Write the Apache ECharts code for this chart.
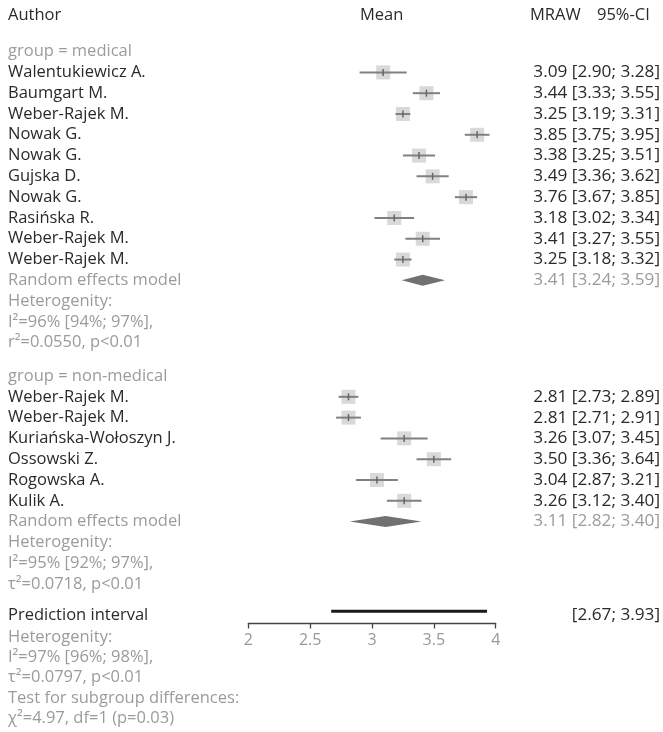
<!DOCTYPE html>
<html>
<head>
<meta charset="utf-8">
<script src="https://cdn.jsdelivr.net/npm/echarts@6/dist/echarts.min.js"></script>
<style>
html, body { margin: 0; padding: 0; background: #fff; }
#main { width: 663px; height: 732px; }
</style>
</head>
<body>
<div id="main"></div>
<script>
// 数据 - medical group
var medAuthors = ['Walentukiewicz A.', 'Baumgart M.', 'Weber-Rajek M.', 'Nowak G.', 'Nowak G.',
    'Gujska D.', 'Nowak G.', 'Rasińska R.', 'Weber-Rajek M.', 'Weber-Rajek M.'];
var medMean = [3.09, 3.44, 3.25, 3.85, 3.38, 3.49, 3.76, 3.18, 3.41, 3.25];
var medLower = [2.90, 3.33, 3.19, 3.75, 3.25, 3.36, 3.67, 3.02, 3.27, 3.18];
var medUpper = [3.28, 3.55, 3.31, 3.95, 3.51, 3.62, 3.85, 3.34, 3.55, 3.32];
var medPooled = [3.41, 3.24, 3.59];
var medHet = ['Heterogenity:', 'I²=96% [94%; 97%],', 'r²=0.0550, p<0.01'];

// non-medical group
var nonAuthors = ['Weber-Rajek M.', 'Weber-Rajek M.', 'Kuriańska-Wołoszyn J.', 'Ossowski Z.',
    'Rogowska A.', 'Kulik A.'];
var nonMean = [2.81, 2.81, 3.26, 3.50, 3.04, 3.26];
var nonLower = [2.73, 2.71, 3.07, 3.36, 2.87, 3.12];
var nonUpper = [2.89, 2.91, 3.45, 3.64, 3.21, 3.40];
var nonPooled = [3.11, 2.82, 3.40];
var nonHet = ['Heterogenity:', 'I²=95% [92%; 97%],', 'τ²=0.0718, p<0.01'];

// overall
var predInterval = [2.67, 3.93];
var overallHet = ['Heterogenity:', 'I²=97% [96%; 98%],', 'τ²=0.0797, p<0.01',
    'Test for subgroup differences:', 'χ²=4.97, df=1 (p=0.03)'];
var xTicks = [2, 2.5, 3, 3.5, 4];

var DARK = '#2a2a2a';
var GREY = '#9b9b9b';
var FONT = 'Open Sans';
var FS = 16.5;
var FS_RIGHT = 17.2; // 右列数字稍宽

function fmt(m, l, u) {
    return m.toFixed(2) + ' [' + l.toFixed(2) + '; ' + u.toFixed(2) + ']';
}

// 构建行
var studyData = [];   // [mean, lower, upper, row]
var diamondData = []; // [mean, lower, upper, row]
var textRows = [];    // {row, left, right, color}
var r = 0;

function addGroup(name, authors, mean, lower, upper, pooled, het) {
    textRows.push({ row: r, left: 'group = ' + name, right: '', color: GREY });
    r++;
    for (var i = 0; i < authors.length; i++) {
        studyData.push([mean[i], lower[i], upper[i], r]);
        textRows.push({ row: r, left: authors[i], right: fmt(mean[i], lower[i], upper[i]), color: DARK });
        r++;
    }
    diamondData.push([pooled[0], pooled[1], pooled[2], r]);
    textRows.push({ row: r, left: 'Random effects model', right: fmt(pooled[0], pooled[1], pooled[2]), color: GREY });
    r++;
    for (var k = 0; k < het.length; k++) {
        textRows.push({ row: r, left: het[k], right: '', color: GREY });
        r++;
    }
}

addGroup('medical', medAuthors, medMean, medLower, medUpper, medPooled, medHet);
r += 0.6;
addGroup('non-medical', nonAuthors, nonMean, nonLower, nonUpper, nonPooled, nonHet);

var predRow = r + 0.5;
textRows.push({ row: predRow, left: 'Prediction interval', right: '[' + predInterval[0].toFixed(2) + '; ' + predInterval[1].toFixed(2) + ']', color: DARK, rightColor: DARK });
for (var h = 0; h < overallHet.length; h++) {
    textRows.push({ row: predRow + 1.05 + h * 0.98, left: overallHet[h], right: '', color: GREY });
}

var myChart = echarts.init(document.getElementById('main'));

myChart.setOption({
    animation: false,
    backgroundColor: '#fff',
    graphic: [
        { type: 'text', left: 8, top: 7, style: { text: 'Author', fill: DARK, font: FS + 'px "' + FONT + '"' } },
        { type: 'text', left: 360, top: 7, style: { text: 'Mean', fill: DARK, font: FS + 'px "' + FONT + '"' } },
        { type: 'text', left: 530, top: 7, style: { text: 'MRAW', fill: DARK, font: FS + 'px "' + FONT + '"' } },
        { type: 'text', left: 597, top: 7, style: { text: '95%-CI', fill: DARK, font: FS + 'px "' + FONT + '"' } }
    ],
    grid: {
        left: 248.3,
        right: 167.3,
        top: 10,
        bottom: 108.5
    },
    xAxis: {
        type: 'value',
        min: xTicks[0],
        max: xTicks[xTicks.length - 1],
        interval: 0.5,
        splitLine: { show: false },
        axisLine: { onZero: false, lineStyle: { color: '#444', width: 1.3 } },
        axisTick: { show: true, length: 5, lineStyle: { color: '#444', width: 1.3 } },
        axisLabel: { color: '#999', fontSize: 16, fontFamily: FONT, margin: 9 }
    },
    yAxis: {
        type: 'value',
        inverse: true,
        min: -2,
        max: 27.5,
        show: false
    },
    series: [
        {
            // 研究: 方块 + 置信区间
            type: 'custom',
            data: studyData,
            encode: { x: [0, 1, 2], y: 3 },
            renderItem: function (params, api) {
                var c = api.coord([api.value(0), api.value(3)]);
                var lo = api.coord([api.value(1), api.value(3)]);
                var hi = api.coord([api.value(2), api.value(3)]);
                return {
                    type: 'group',
                    children: [
                        { type: 'rect', shape: { x: c[0] - 7, y: c[1] - 7, width: 14, height: 14 }, style: { fill: '#d9d9d9' } },
                        { type: 'line', shape: { x1: lo[0], y1: lo[1], x2: hi[0], y2: hi[1] }, style: { stroke: '#808080', lineWidth: 2 } },
                        { type: 'line', shape: { x1: c[0], y1: c[1] - 3.5, x2: c[0], y2: c[1] + 3.5 }, style: { stroke: '#666', lineWidth: 1.5 } }
                    ]
                };
            }
        },
        {
            // 随机效应模型 菱形
            type: 'custom',
            data: diamondData,
            encode: { x: [0, 1, 2], y: 3 },
            renderItem: function (params, api) {
                var c = api.coord([api.value(0), api.value(3)]);
                var lo = api.coord([api.value(1), api.value(3)]);
                var hi = api.coord([api.value(2), api.value(3)]);
                return {
                    type: 'polygon',
                    shape: { points: [[lo[0], c[1]], [c[0], c[1] - 5.5], [hi[0], c[1]], [c[0], c[1] + 5.5]] },
                    style: { fill: '#717171' }
                };
            }
        },
        {
            // prediction interval
            type: 'custom',
            data: [[predInterval[0], predInterval[1], predRow]],
            encode: { x: [0, 1], y: 2 },
            renderItem: function (params, api) {
                var a = api.coord([api.value(0), api.value(2)]);
                var b = api.coord([api.value(1), api.value(2)]);
                return {
                    type: 'line',
                    shape: { x1: a[0], y1: a[1] - 4, x2: b[0], y2: b[1] - 4 },
                    style: { stroke: '#1a1a1a', lineWidth: 3 }
                };
            }
        },
        {
            // 文字列
            type: 'custom',
            clip: false,
            data: textRows.map(function (t) { return [2, t.row]; }),
            encode: { x: 0, y: 1 },
            renderItem: function (params, api) {
                var t = textRows[params.dataIndex];
                var y = api.coord([2, t.row])[1];
                var kids = [{
                    type: 'text', x: 8, y: y,
                    style: { text: t.left, fill: t.color, fontSize: FS, fontFamily: FONT, align: 'left', verticalAlign: 'middle' }
                }];
                if (t.right) {
                    kids.push({
                        type: 'text', x: 660, y: y,
                        style: { text: t.right, fill: t.rightColor || t.color, fontSize: FS_RIGHT, fontFamily: FONT, align: 'right', verticalAlign: 'middle' }
                    });
                }
                return { type: 'group', children: kids };
            }
        }
    ]
});
</script>
</body>
</html>
